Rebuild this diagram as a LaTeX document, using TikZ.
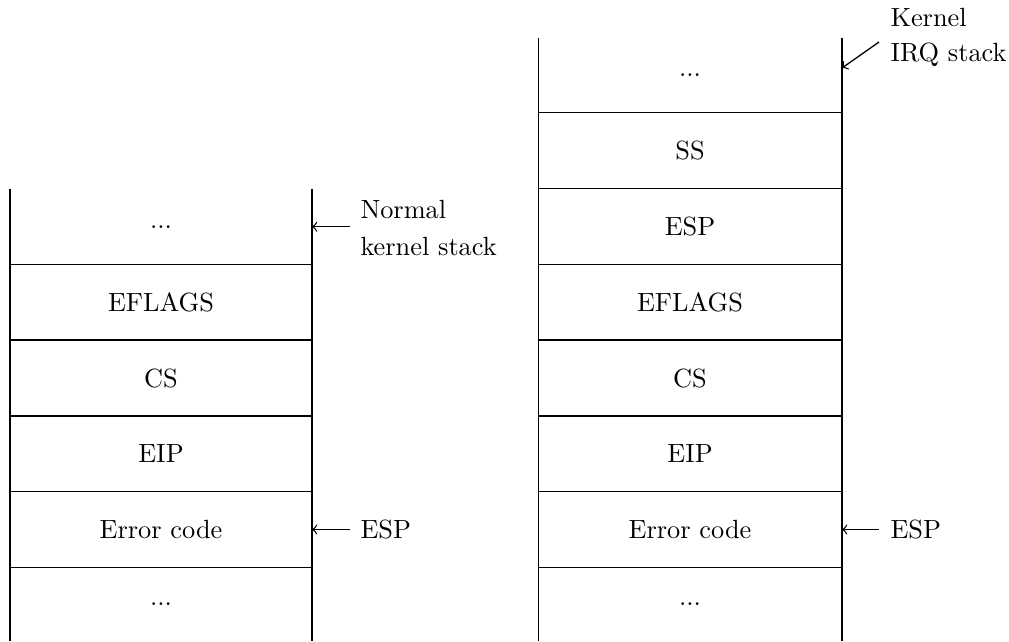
\documentclass[tikz,border=0pt]{standalone}
\usetikzlibrary{arrows}
\begin{document}
\begin{tikzpicture}[x=0.3798pt,y=-0.3798pt,
  stackline/.style={line width=0.5pt},
  cell/.style={inner sep=0pt,font=\fontsize{10}{12}\selectfont},
  lbl/.style={inner sep=0pt,font=\fontsize{10}{12}\selectfont},
  ptr/.style={->,>=to,line width=0.5pt}]
\useasboundingbox (0,0) rectangle (1009,641);
% left stack
\draw[stackline] (10,189) -- (10,641);
\draw[stackline] (312,189) -- (312,641);
\foreach \yy in {264.3,340.1,415.9,491.7,567.4}
  \draw[stackline] (10,\yy) -- (312,\yy);
\node[cell] (l1) at (161,226.7) {...};
\node[cell] (l2) at (161,302.2) {EFLAGS};
\node[cell] (l3) at (161,378) {CS};
\node[cell] (l4) at (161,453.8) {EIP};
\node[cell] (l5) at (161,529.5) {Error code};
\node[cell] (l6) at (161,604.5) {...};
% right stack
\draw[stackline] (538.5,38) -- (538.5,641);
\draw[stackline] (842,38) -- (842,641);
\foreach \yy in {112.7,188.5,264.3,340.1,415.9,491.7,567.4}
  \draw[stackline] (538.5,\yy) -- (842,\yy);
\node[cell] (r1) at (690,75.4) {...};
\node[cell] (r2) at (690,150.6) {SS};
\node[cell] (r3) at (690,226.4) {ESP};
\node[cell] (r4) at (690,302.2) {EFLAGS};
\node[cell] (r5) at (690,378) {CS};
\node[cell] (r6) at (690,453.8) {EIP};
\node[cell] (r7) at (690,529.5) {Error code};
\node[cell] (r8) at (690,604.5) {...};
% labels
\node[lbl,anchor=base west] (nk1) at (360,218.3) {Normal};
\node[lbl,anchor=base west] (nk2) at (360,255) {kernel stack};
\node[lbl,anchor=west] (esp1) at (360,529.5) {ESP};
\node[lbl,anchor=base west] (ki1) at (890,26.7) {Kernel};
\node[lbl,anchor=base west] (ki2) at (890,61.7) {IRQ stack};
\node[lbl,anchor=west] (esp2) at (890,529.5) {ESP};
% pointer ends
\coordinate (a1s) at (350,226.7); \coordinate (a1e) at (312,226.7);
\coordinate (a2s) at (350,529.5); \coordinate (a2e) at (312,529.5);
\coordinate (a3s) at (879,42);    \coordinate (a3e) at (842,68);
\coordinate (a4s) at (879,529.5); \coordinate (a4e) at (842,529.5);
\draw[ptr] (a1s) -- (a1e);
\draw[ptr] (a2s) -- (a2e);
\draw[ptr] (a3s) -- (a3e);
\draw[ptr] (a4s) -- (a4e);
\end{tikzpicture}
\end{document}
